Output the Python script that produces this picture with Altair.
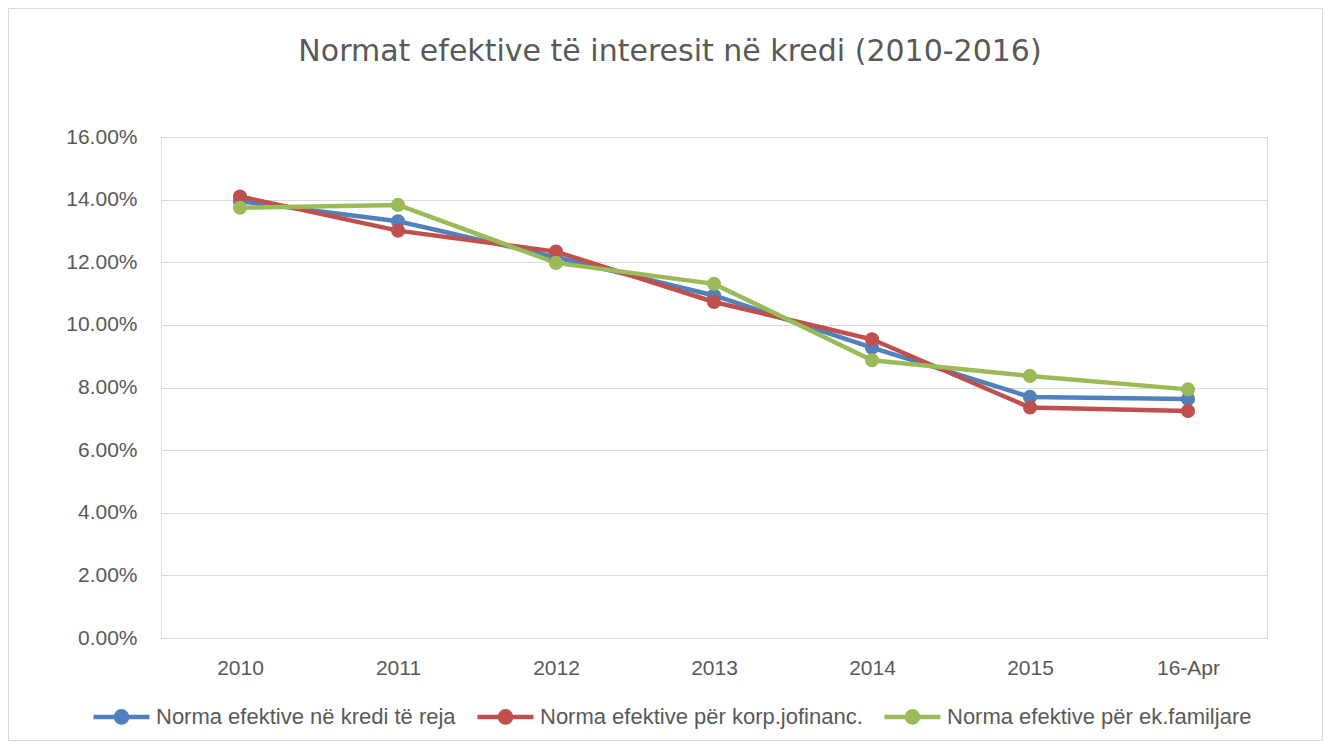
import altair as alt
import pandas as pd

categories = ["2010", "2011", "2012", "2013", "2014", "2015", "16-Apr"]
series_names = [
    "Norma efektive në kredi të reja",
    "Norma efektive për korp.jofinanc.",
    "Norma efektive për ek.familjare",
]
blue_vals = [0.1395, 0.1331, 0.1216, 0.1094, 0.0927, 0.0770, 0.0763]
red_vals = [0.1410, 0.1301, 0.1234, 0.1073, 0.0954, 0.0736, 0.0725]
green_vals = [0.1374, 0.1383, 0.1198, 0.1131, 0.0887, 0.0837, 0.0794]
colors = ["#4F81BD", "#C0504D", "#9BBB59"]
y_ticks = [0, 0.02, 0.04, 0.06, 0.08, 0.10, 0.12, 0.14, 0.16]

rows = []
for name, vals in zip(series_names, [blue_vals, red_vals, green_vals]):
    for i, (c, v) in enumerate(zip(categories, vals)):
        rows.append({"Viti": c, "idx": i, "Seria": name, "Norma": v})
df = pd.DataFrame(rows)

FONT = "Liberation Sans"
TFONT = "DejaVu Sans"
TXT = "#595959"
GRID = "#D9D9D9"

W, H = 1106, 501
PL, PT, PR, PB = 153, 129, 56, 103

legend_path = (
    "M-1,0 L1,0 "
    "M-0.03,0 A0.03,0.03 0 1,0 0.03,0 A0.03,0.03 0 1,0 -0.03,0 "
    "M-0.09,0 A0.09,0.09 0 1,0 0.09,0 A0.09,0.09 0 1,0 -0.09,0 "
    "M-0.15,0 A0.15,0.15 0 1,0 0.15,0 A0.15,0.15 0 1,0 -0.15,0 "
    "M-0.2,0 A0.2,0.2 0 1,0 0.2,0 A0.2,0.2 0 1,0 -0.2,0"
)

border = (
    alt.Chart(pd.DataFrame({"a": [0]}))
    .mark_rect(fill="transparent", stroke=GRID, strokeWidth=1)
    .encode(
        x=alt.value(-PL + 0.5),
        x2=alt.value(W + PR - 0.5),
        y=alt.value(-PT + 0.5),
        y2=alt.value(H + PB - 0.5),
    )
)

lines = (
    alt.Chart(df)
    .mark_line(strokeWidth=4.5, point=alt.OverlayMarkDef(filled=True, size=200, opacity=1))
    .encode(
        x=alt.X(
            "Viti:O",
            sort=categories,
            scale=alt.Scale(type="point", padding=0.5),
            axis=alt.Axis(
                title=None,
                labelAngle=0,
                labelFontSize=21,
                labelColor=TXT,
                labelFont=FONT,
                labelPadding=19,
                ticks=False,
                domainColor=GRID,
                domainWidth=1,
                grid=False,
            ),
        ),
        y=alt.Y(
            "Norma:Q",
            scale=alt.Scale(domain=[0, 0.16], nice=False),
            axis=alt.Axis(
                title=None,
                values=y_ticks,
                format=".2%",
                labelFontSize=21,
                labelColor=TXT,
                labelFont=FONT,
                labelPadding=24,
                ticks=False,
                domain=False,
                gridColor=GRID,
                gridWidth=1,
            ),
        ),
        color=alt.Color(
            "Seria:N",
            sort=series_names,
            scale=alt.Scale(domain=series_names, range=colors),
            legend=alt.Legend(
                title=None,
                orient="none",
                direction="horizontal",
                columns=3,
                legendX=-70,
                legendY=549,
                symbolType=legend_path,
                symbolSize=3136,
                symbolStrokeWidth=4.5,
                labelFontSize=22,
                labelColor=TXT,
                labelFont=FONT,
                labelOffset=4,
                columnPadding=12,
                labelLimit=400,
            ),
        ),
        order=alt.Order("idx:Q"),
    )
)

chart = (
    alt.layer(border, lines)
    .properties(
        width=W,
        height=H,
        autosize=alt.AutoSizeParams(type="none"),
        padding={"left": PL, "top": PT, "right": PR, "bottom": PB},
        title=alt.TitleParams(
            "Normat efektive të interesit në kredi (2010-2016)",
            fontSize=30,
            font=TFONT,
            fontWeight="normal",
            color=TXT,
            anchor="middle",
            offset=-59,
            dx=-44,
        ),
    )
    .configure_view(stroke="transparent", strokeWidth=0)
    .configure(background="white")
)

chart.save("out.html", embed_options={"renderer": "svg", "actions": False})
